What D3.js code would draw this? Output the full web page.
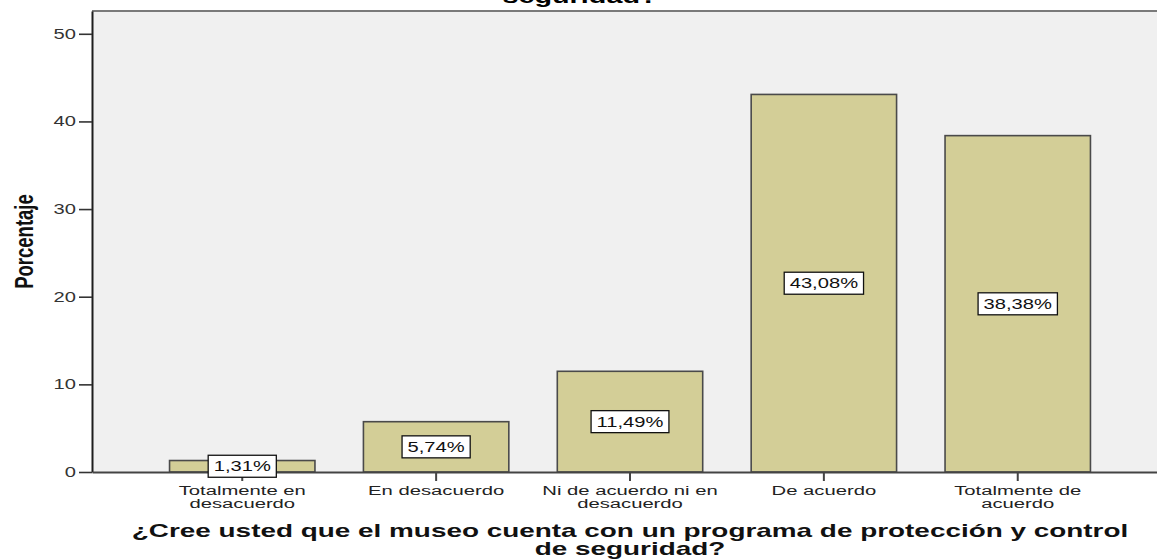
<!DOCTYPE html>
<html>
<head>
<meta charset="utf-8">
<script src="https://cdn.jsdelivr.net/npm/d3@7"></script>
<style>
  body { margin: 0; background: #fff; }
  svg { display: block; font-family: "Liberation Sans", Arial, sans-serif; }
</style>
</head>
<body>
<svg id="chart"></svg>
<script>
"use strict";

// data
var categories = ["Totalmente en\ndesacuerdo", "En desacuerdo", "Ni de acuerdo ni en\ndesacuerdo", "De acuerdo", "Totalmente de\nacuerdo"];
var percentages = [1.31, 5.74, 11.49, 43.08, 38.38];
var yTicks = [0, 10, 20, 30, 40, 50];
var chartTitle = "seguridad?";
var xTitle = ["¿Cree usted que el museo cuenta con un programa de protección y control", "de seguridad?"];
var yTitle = "Porcentaje";

var width = 1157;
var height = 560;
var plot = { left: 92, right: 1168, top: 11, bottom: 472 };
var sx = 1.44; // the original picture is stretched sideways
var commaFmt = d3.format(".2f");

var svg = d3.select("#chart").attr("width", width).attr("height", height);

var x = d3.scaleBand().domain(categories).range([plot.left, plot.right]).paddingInner(0.25).paddingOuter(0.4);
var y = d3.scaleLinear().domain([0, 52.6]).range([plot.bottom, plot.top]);

// plot background
svg.append("rect")
  .attr("x", plot.left).attr("y", plot.top)
  .attr("width", plot.right - plot.left).attr("height", plot.bottom - plot.top)
  .attr("fill", "#f0f0f0");
svg.append("line")
  .attr("x1", plot.left).attr("x2", plot.right)
  .attr("y1", plot.top).attr("y2", plot.top)
  .attr("stroke", "#7a7a7a").attr("stroke-width", 2);

// bars
svg.append("g").selectAll("rect").data(percentages).enter().append("rect")
  .attr("x", function (d, i) { return x(categories[i]); })
  .attr("y", function (d) { return y(d); })
  .attr("width", x.bandwidth())
  .attr("height", function (d) { return y(0) - y(d); })
  .attr("fill", "#d3ce97")
  .attr("stroke", "#4a4a4a")
  .attr("stroke-width", 1.6);

// axes
var yAxis = svg.append("g").attr("transform", "translate(" + plot.left + ",0)")
  .call(d3.axisLeft(y).tickValues(yTicks).tickSize(13).tickSizeOuter(0).tickPadding(3));
yAxis.select(".domain").attr("stroke", "#1e1e1e").attr("stroke-width", 2);
yAxis.selectAll(".tick line").attr("stroke", "#333").attr("stroke-width", 1.6);
yAxis.selectAll(".tick text")
  .attr("x", -16 / sx)
  .attr("transform", "scale(" + sx + ",1)")
  .attr("fill", "#333")
  .style("font-size", "14px");

var xAxis = svg.append("g").attr("transform", "translate(0," + plot.bottom + ")")
  .call(d3.axisBottom(x).tickSize(9).tickSizeOuter(0).tickFormat(""));
xAxis.select(".domain").attr("stroke", "#444").attr("stroke-width", 2);
xAxis.selectAll(".tick line").attr("stroke", "#444").attr("stroke-width", 2);

// category labels
var catG = svg.append("g").selectAll("text").data(categories).enter().append("text")
  .attr("transform", function (d) {
    return "translate(" + (x(d) + x.bandwidth() / 2) + ",495) scale(1.5,1)";
  })
  .attr("text-anchor", "middle")
  .attr("fill", "#222")
  .style("font-size", "13.5px");
catG.selectAll("tspan").data(function (d) { return d.split("\n"); }).enter().append("tspan")
  .attr("x", 0)
  .attr("y", function (d, i) { return i * 13; })
  .text(function (d) { return d; });

// value labels in boxes
var labels = svg.append("g").selectAll("g").data(percentages).enter().append("g")
  .attr("transform", function (d, i) {
    return "translate(" + (x(categories[i]) + x.bandwidth() / 2) + "," + y(d / 2) + ")";
  });
labels.append("rect")
  .attr("fill", "#fff").attr("stroke", "#111").attr("stroke-width", 1.3);
var labelText = labels.append("text")
  .attr("transform", "scale(" + sx + ",1)")
  .attr("text-anchor", "middle")
  .attr("dy", "0.36em")
  .attr("fill", "#111")
  .style("font-size", "14px")
  .text(function (d) { return commaFmt(d).replace(".", ",") + "%"; });
labelText.each(function () {
  var w = this.getComputedTextLength() * sx + 11;
  d3.select(this.parentNode).select("rect")
    .attr("x", -w / 2).attr("y", -11).attr("width", w).attr("height", 22);
});

// titles
var midX = (plot.left + plot.right) / 2;
svg.append("text")
  .attr("transform", "translate(580,3) scale(" + sx + ",1)")
  .attr("text-anchor", "middle")
  .style("font-size", "20px").style("font-weight", "bold")
  .text(chartTitle);

var xt = svg.append("text")
  .attr("transform", "translate(" + midX + ",537) scale(1.55,1)")
  .attr("text-anchor", "middle")
  .attr("fill", "#111")
  .style("font-size", "18px").style("font-weight", "bold");
xt.selectAll("tspan").data(xTitle).enter().append("tspan")
  .attr("x", 0)
  .attr("y", function (d, i) { return i * 18.5; })
  .text(function (d) { return d; });

svg.append("text")
  .attr("transform", "translate(33," + (plot.top + plot.bottom) / 2 + ") scale(" + sx + ",1) rotate(-90)")
  .attr("text-anchor", "middle")
  .attr("fill", "#111")
  .style("font-size", "18.5px").style("font-weight", "bold")
  .text(yTitle);
</script>
</body>
</html>
